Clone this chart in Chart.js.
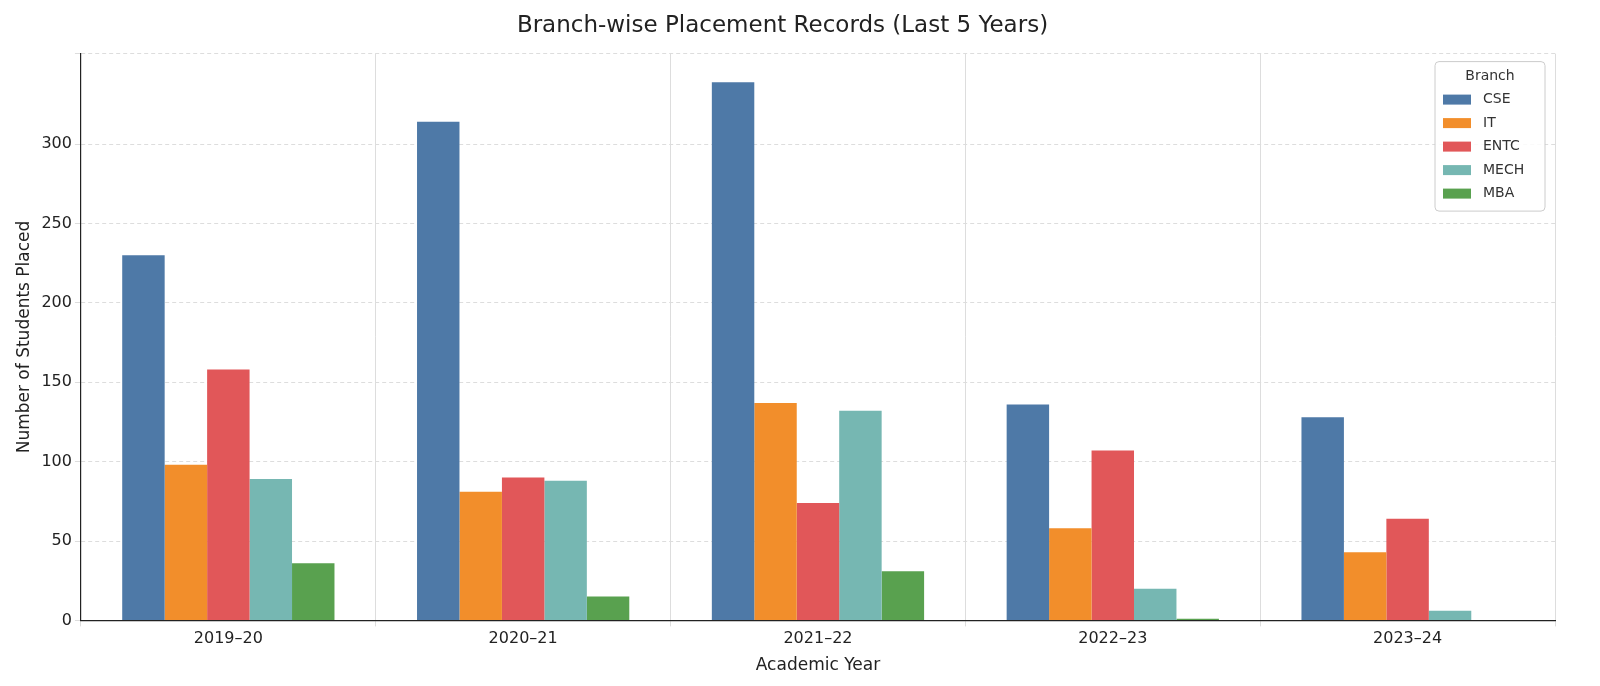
<!DOCTYPE html>
<html>
<head>
<meta charset="utf-8">
<script src="https://cdn.jsdelivr.net/npm/chart.js@4.4.1/dist/chart.umd.min.js"></script>
<style>
  html, body { margin: 0; padding: 0; background: #fff; }
  #wrap { width: 1600px; height: 686px; }
</style>
</head>
<body>
<div id="wrap"><canvas id="canvas"></canvas></div>
<script>
var years = ["2019–20", "2020–21", "2021–22", "2022–23", "2023–24"];
var branches = ["CSE", "IT", "ENTC", "MECH", "MBA"];
var cse = [230, 314, 339, 136, 128];
var it = [98, 81, 137, 58, 43];
var entc = [158, 90, 74, 107, 64];
var mech = [89, 88, 132, 20, 6];
var mba = [36, 15, 31, 1, 0];
var colors = ["#4e79a7", "#f28e2b", "#e15759", "#76b7b2", "#59a14f"];
var series = [cse, it, entc, mech, mba];

// legend drawn inside the plot, top right
var insideLegend = {
    id: "insideLegend",
    afterDraw: function (chart) {
        var ctx = chart.ctx;
        var area = chart.chartArea;
        var w = 110, rowH = 23.5;
        var h = 32 + rowH * branches.length;
        var x = area.right - w - 10, y = area.top + 8;
        ctx.save();
        ctx.fillStyle = "rgba(255,255,255,0.85)";
        ctx.strokeStyle = "#cccccc";
        ctx.lineWidth = 1;
        ctx.beginPath();
        ctx.roundRect(x, y, w, h, 4);
        ctx.fill();
        ctx.stroke();
        ctx.font = "14px 'DejaVu Sans'";
        ctx.fillStyle = "#333";
        ctx.textAlign = "center";
        ctx.textBaseline = "middle";
        ctx.fillText("Branch", x + w / 2, y + 15);
        ctx.textAlign = "left";
        for (var i = 0; i < branches.length; i++) {
            var yy = y + 38 + i * rowH;
            ctx.fillStyle = colors[i];
            ctx.fillRect(x + 8, yy - 5, 28, 10);
            ctx.fillStyle = "#333";
            ctx.fillText(branches[i], x + 48, yy);
        }
        ctx.restore();
    }
};

var ctx = document.getElementById("canvas").getContext("2d");
var pChart = new Chart(ctx, {
    type: "bar",
    data: {
        labels: years,
        datasets: branches.map(function (b, i) {
            return {
                label: b,
                data: series[i],
                backgroundColor: colors[i],
                borderWidth: 0
            };
        })
    },
    options: {
        responsive: true,
        maintainAspectRatio: false,
        animation: false,
        layout: { padding: { left: 10, right: 45, top: 0, bottom: 6 } },
        plugins: {
            legend: { display: false },
            tooltip: { enabled: false },
            title: {
                display: true,
                text: "Branch-wise Placement Records (Last 5 Years)",
                color: "#222",
                font: { family: "DejaVu Sans", size: 23, weight: "normal" },
                padding: { top: 12, bottom: 14 }
            }
        },
        datasets: { bar: { categoryPercentage: 0.72, barPercentage: 1.0 } },
        scales: {
            x: {
                grid: { color: "#dddddd", borderDash: [4, 3], drawTicks: true, tickLength: 6 },
                border: { color: "#222", width: 1.2 },
                ticks: { color: "#222", font: { family: "DejaVu Sans", size: 16 } },
                title: { display: true, text: "Academic Year", color: "#222", font: { family: "DejaVu Sans", size: 17 }, padding: { top: 4 } }
            },
            y: {
                min: 0, max: 357,
                grid: { color: "#dddddd", drawTicks: true, tickLength: 6 },
                border: { color: "#222", width: 1.2, dash: [4, 3] },
                ticks: { stepSize: 50, color: "#222", font: { family: "DejaVu Sans", size: 16 },
                    callback: function (v) { return v % 50 === 0 ? v : ""; } },
                title: { display: true, text: "Number of Students Placed", color: "#222", font: { family: "DejaVu Sans", size: 17 } }
            }
        }
    },
    plugins: [insideLegend]
});
</script>
</body>
</html>
